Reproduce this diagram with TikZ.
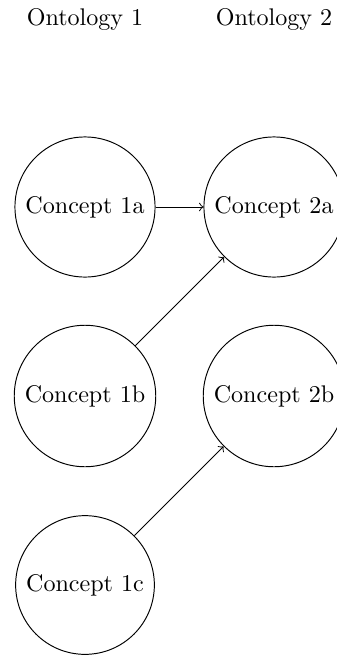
\documentclass[tikz,border=0pt]{standalone}
\begin{document}
\begin{tikzpicture}[x=0.415pt,y=-0.415pt,
  concept/.style={circle,draw,inner sep=3.33pt},
  >=to]
\useasboundingbox (0,0) rectangle (337,656);
\node (o1) at (85,19) {Ontology 1};
\node (o2) at (274,19) {Ontology 2};
\node[concept] (c1a) at (85,207) {Concept 1a};
\node[concept] (c2a) at (274,207) {Concept 2a};
\node[concept] (c1b) at (85,396) {Concept 1b};
\node[concept] (c2b) at (274,396) {Concept 2b};
\node[concept] (c1c) at (85,585) {Concept 1c};
\draw[->] (c1a) -- (c2a);
\draw[->] (c1b) -- (c2a);
\draw[->] (c1c) -- (c2b);
\end{tikzpicture}
\end{document}
